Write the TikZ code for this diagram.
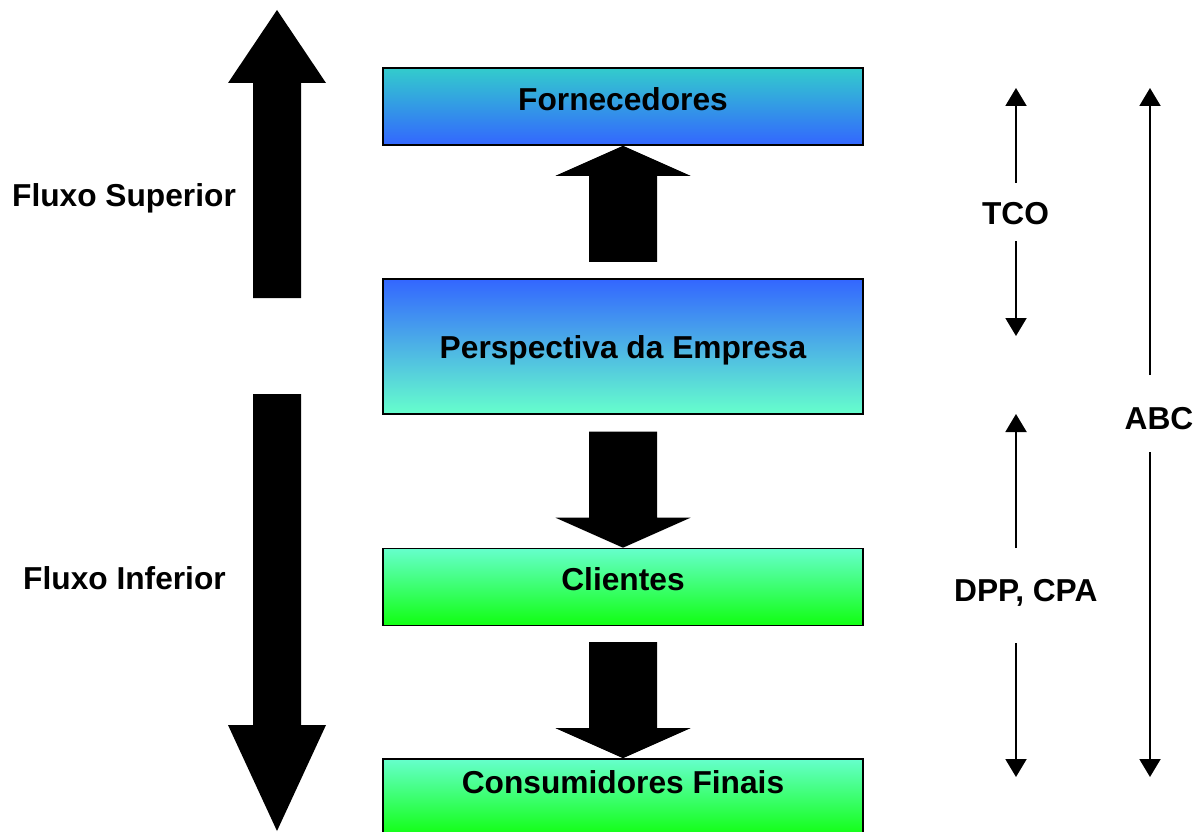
\documentclass[tikz,border=0pt]{standalone}
\usepackage{fontspec}
\setmainfont{Liberation Sans}
\usetikzlibrary{arrows.meta,calc}

\definecolor{teal1}{HTML}{33CCCC}
\definecolor{blue1}{HTML}{3366FF}
\definecolor{aqua1}{HTML}{66FFCC}
\definecolor{green1}{HTML}{11FF11}

\begin{document}
\begin{tikzpicture}[x=1pt,y=-1pt,
  stage/.style={draw=black, line width=1.6pt, minimum width=480pt, inner sep=0pt},
  lbl/.style={font=\fontsize{31.7}{38}\selectfont\bfseries, inner sep=0pt, anchor=base},
  thinarr/.style={line width=2pt, -{Triangle[width=21pt,length=18pt]}},
  bigarr/.style={fill=black},
  blockdown/.pic={\fill (0,0) -- (-67.5,-30) -- (-34,-30) -- (-34,-116)
                   -- (34,-116) -- (34,-30) -- (67.5,-30) -- cycle;}
]
\useasboundingbox (0,0) rectangle (1203,832);
\clip (0,0) rectangle (1203,832);

% stage boxes
\node[stage, minimum height=77pt, top color=teal1, bottom color=blue1]
  (forn) at (623,106.5) {};
\node[stage, minimum height=135pt, top color=blue1, bottom color=aqua1]
  (persp) at (623,346.5) {};
\node[stage, minimum height=77pt, top color=aqua1, bottom color=green1]
  (cli) at (623,587) {};
\node[stage, minimum height=77pt, top color=aqua1, bottom color=green1]
  (cons) at (623,797.5) {};

\node[lbl] (fornT)  at (623,110.7) {Fornecedores};
\node[lbl] (perspT) at (623,358.3) {Perspectiva da Empresa};
\node[lbl] (cliT)   at (623,590.7) {Clientes};
\node[lbl] (consT)  at (623,793)   {Consumidores Finais};

% block arrows between the stages
\pic[rotate=180] at (forn.south) {blockdown};
\pic at (cli.north) {blockdown};
\pic at (cons.north) {blockdown};

% large flow arrows on the left
\fill[bigarr] (277,10) -- (326,83) -- (301,83) -- (301,298) -- (253,298)
  -- (253,83) -- (228,83) -- cycle;
\fill[bigarr] (253,394) -- (301,394) -- (301,725) -- (326,725) -- (277,831)
  -- (228,725) -- (253,725) -- cycle;
\node[lbl] (sup) at (124,206.5) {Fluxo Superior};
\node[lbl] (inf) at (124.5,589.5) {Fluxo Inferior};

% cost method ranges on the right
\node[lbl] (tco) at (1015.5,225) {TCO};
\node[lbl] (dpp) at (1025.8,601) {DPP, CPA};
\node[lbl] (abc) at (1159,429) {ABC};

\coordinate (tcoTop) at (1016,88);
\coordinate (tcoA)   at (1016,183);
\coordinate (tcoB)   at (1016,241);
\coordinate (tcoBot) at (1016,336);
\draw[thinarr] (tcoA) -- (tcoTop);
\draw[thinarr] (tcoB) -- (tcoBot);

\coordinate (dppTop) at (1016,414);
\coordinate (dppA)   at (1016,548);
\coordinate (dppB)   at (1016,643);
\coordinate (dppBot) at (1016,777);
\draw[thinarr] (dppA) -- (dppTop);
\draw[thinarr] (dppB) -- (dppBot);

\coordinate (abcTop) at (1150,88);
\coordinate (abcA)   at (1150,375);
\coordinate (abcB)   at (1150,452);
\coordinate (abcBot) at (1150,777);
\draw[thinarr] (abcA) -- (abcTop);
\draw[thinarr] (abcB) -- (abcBot);
\end{tikzpicture}
\end{document}
